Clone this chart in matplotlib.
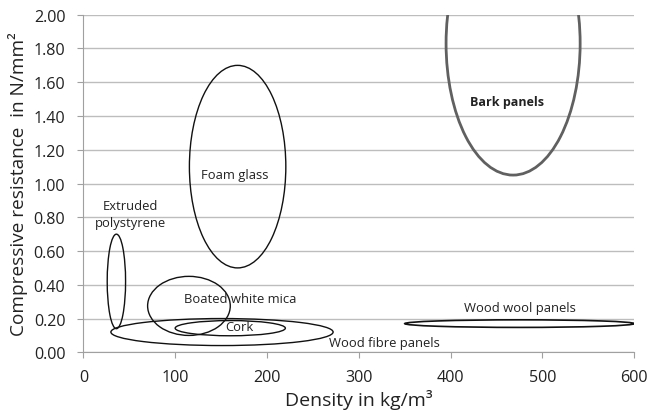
import matplotlib
matplotlib.use("Agg")
import matplotlib.pyplot as plt
from matplotlib.patches import Ellipse

plt.rcParams['font.family'] = ['Open Sans', 'DejaVu Sans']

# material ranges: density (kg/m3) and compressive resistance (N/mm2)
materials = ['Extruded\npolystyrene', 'Foam glass', 'Boated white mica', 'Cork',
             'Wood fibre panels', 'Wood wool panels', 'Bark panels']
dens_mid = [36, 168, 115, 160, 151, 475, 468]
dens_span = [20, 105, 90, 120, 242, 250, 146]
res_mid = [0.42, 1.10, 0.275, 0.143, 0.12, 0.17, 1.83]
res_span = [0.56, 1.20, 0.35, 0.09, 0.16, 0.045, 1.56]

label_x = [51, 165, 171, 170, 328, 475, 461]
label_y = [0.82, 1.055, 0.32, 0.152, 0.06, 0.266, 1.485]

xticks = [0, 100, 200, 300, 400, 500, 600]
yticks = [0.0, 0.2, 0.4, 0.6, 0.8, 1.0, 1.2, 1.4, 1.6, 1.8, 2.0]

fig = plt.figure(figsize=(6.49, 4.14), dpi=100)
ax = fig.add_axes([0.1284, 0.1466, 0.849, 0.8154])

for i in range(len(materials)):
    bark = materials[i] == 'Bark panels'
    e = Ellipse((dens_mid[i], res_mid[i]), dens_span[i], res_span[i],
                fill=False, edgecolor='#606060' if bark else '#111111',
                lw=2.0 if bark else (1.2 if i == 5 else 1.0), zorder=3)
    ax.add_patch(e)
    ax.text(label_x[i], label_y[i], materials[i], ha='center', va='center',
            fontsize=9.4 if not bark else 9, color='#222222',
            fontweight='bold' if bark else 'normal', zorder=4,
            linespacing=1.35)

ax.set_xlim(0, 600)
ax.set_ylim(0, 2.0)
ax.set_xticks(xticks)
ax.set_yticks(yticks)
ax.set_yticklabels(['%.2f' % v for v in yticks])
ax.yaxis.grid(True, color='#bdbdbd', lw=1.0)
ax.set_axisbelow(True)
for s in ['top', 'right']:
    ax.spines[s].set_visible(False)
for s in ['left', 'bottom']:
    ax.spines[s].set_color('#a0a0a0')
ax.tick_params(axis='both', colors='#a0a0a0', labelcolor='#222222', labelsize=11.6, length=4)
ax.tick_params(axis='y', pad=9)
ax.tick_params(axis='x', pad=8)
ax.set_xlabel('Density in kg/m³', fontsize=14, color='#222222', labelpad=3)
ax.set_ylabel('Compressive resistance  in N/mm²', fontsize=13.7, color='#222222', labelpad=4)

fig.savefig('out.png', dpi=100)
